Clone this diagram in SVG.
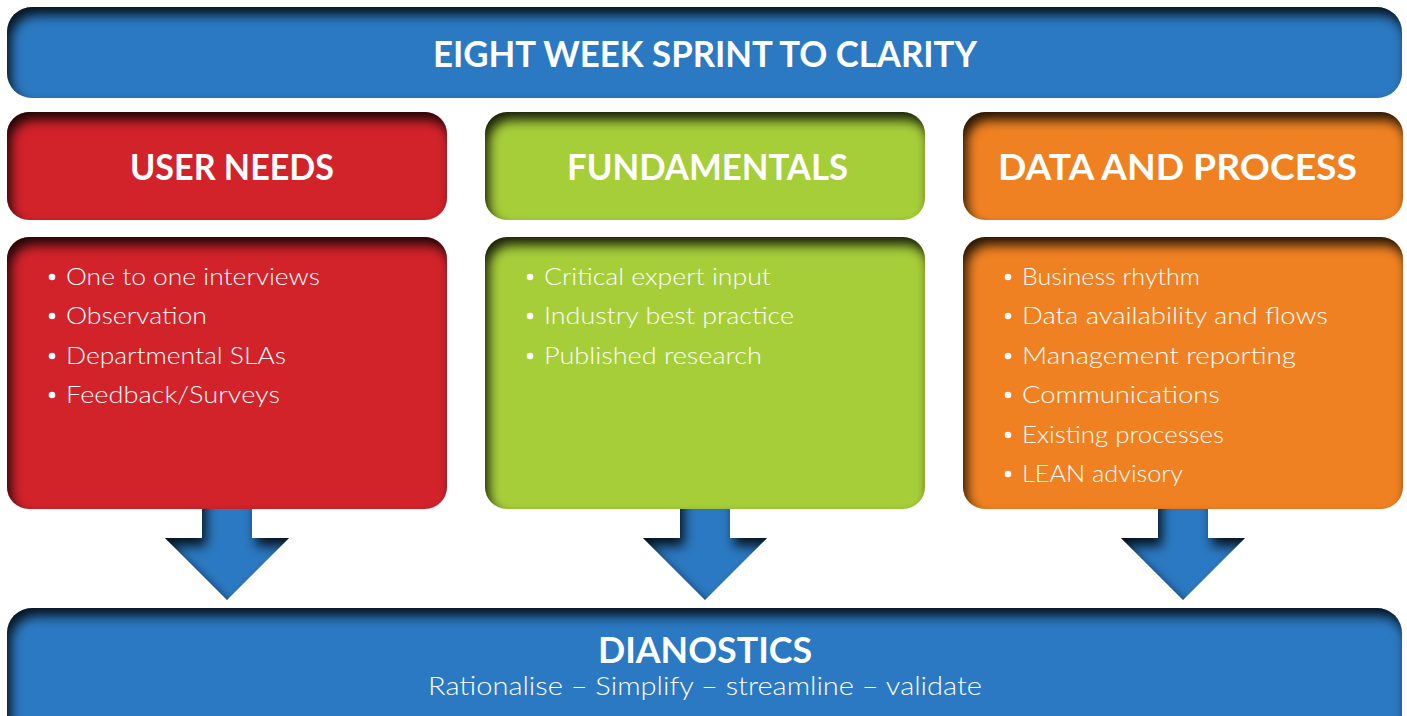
<svg xmlns="http://www.w3.org/2000/svg" width="1407" height="716" viewBox="0 0 1407 716">
  <style>
    .title { font-family: "Century Gothic", Lato, "DejaVu Sans", sans-serif; font-weight: 700; fill: #ffffff; text-anchor: middle; }
    .item { font-family: "Century Gothic", Lato, "DejaVu Sans", sans-serif; font-weight: 300; font-size: 24px; fill: #ffffff; }
    .sub { font-family: "Century Gothic", Lato, "DejaVu Sans", sans-serif; font-weight: 300; font-size: 25px; fill: #ffffff; }
    .blue { fill: #2b79c2; }
    .red { fill: #d2222a; }
    .green { fill: #a6ce39; }
    .orange { fill: #f08122; }
    .dot { fill: #ffffff; }
  </style>
  <defs>
    <!-- inner shadow falling from the top-left edge -->
    <filter id="inset" x="-10%" y="-40%" width="120%" height="180%" color-interpolation-filters="sRGB">
      <feComponentTransfer in="SourceAlpha" result="inv">
        <feFuncA type="table" tableValues="1 0"/>
      </feComponentTransfer>
      <feGaussianBlur in="inv" stdDeviation="6"/>
      <feOffset dx="4" dy="8" result="off"/>
      <feComposite in="off" in2="SourceAlpha" operator="in" result="sh"/>
      <feColorMatrix in="sh" type="matrix" values="0 0 0 0 0  0 0 0 0 0  0 0 0 0 0  0 0 0 0.85 0" result="shc"/>
      <feMerge>
        <feMergeNode in="SourceGraphic"/>
        <feMergeNode in="shc"/>
      </feMerge>
    </filter>
  </defs>

  <rect width="1407" height="716" fill="#ffffff"/>

  <!-- down arrows into the diagnostics bar -->
  <g id="connectors" filter="url(#inset)">
    <polygon class="blue" points="202,490 252,490 252,538 289,538 227,600 165,538 202,538"/>
    <polygon class="blue" points="680,490 730,490 730,538 767,538 705,600 643,538 680,538"/>
    <polygon class="blue" points="1158,490 1208,490 1208,538 1245,538 1183,600 1121,538 1158,538"/>
  </g>

  <g id="title">
    <rect class="blue" x="7" y="7" width="1395" height="91" rx="25" filter="url(#inset)"/>
    <text class="title" x="705" y="67" font-size="37" textLength="544" lengthAdjust="spacingAndGlyphs">EIGHT WEEK SPRINT TO CLARITY</text>
  </g>

  <g id="user-needs-head">
    <rect class="red" x="7" y="112" width="440" height="108" rx="22" filter="url(#inset)"/>
    <text class="title" x="232" y="180" font-size="37" textLength="204" lengthAdjust="spacingAndGlyphs">USER NEEDS</text>
  </g>
  <g id="fundamentals-head">
    <rect class="green" x="485" y="112" width="440" height="108" rx="22" filter="url(#inset)"/>
    <text class="title" x="707.5" y="180" font-size="37" textLength="281" lengthAdjust="spacingAndGlyphs">FUNDAMENTALS</text>
  </g>
  <g id="data-process-head">
    <rect class="orange" x="963" y="112" width="440" height="108" rx="22" filter="url(#inset)"/>
    <text class="title" x="1177.5" y="180" font-size="37" textLength="359" lengthAdjust="spacingAndGlyphs">DATA AND PROCESS</text>
  </g>

  <g id="user-needs-body">
    <rect class="red" x="7" y="237" width="440" height="272" rx="22" filter="url(#inset)"/>
    <circle class="dot" cx="52" cy="277" r="3.3"/>
    <text class="item" x="66" y="285" textLength="254" lengthAdjust="spacingAndGlyphs">One to one interviews</text>
    <circle class="dot" cx="52" cy="316" r="3.3"/>
    <text class="item" x="66" y="324" textLength="141" lengthAdjust="spacingAndGlyphs">Observation</text>
    <circle class="dot" cx="52" cy="356" r="3.3"/>
    <text class="item" x="66" y="364" textLength="220" lengthAdjust="spacingAndGlyphs">Departmental SLAs</text>
    <circle class="dot" cx="52" cy="395" r="3.3"/>
    <text class="item" x="66" y="403" textLength="214" lengthAdjust="spacingAndGlyphs">Feedback/Surveys</text>
  </g>

  <g id="fundamentals-body">
    <rect class="green" x="485" y="237" width="440" height="272" rx="22" filter="url(#inset)"/>
    <circle class="dot" cx="530" cy="277" r="3.3"/>
    <text class="item" x="544" y="285" textLength="227" lengthAdjust="spacingAndGlyphs">Critical expert input</text>
    <circle class="dot" cx="530" cy="316" r="3.3"/>
    <text class="item" x="544" y="324" textLength="250" lengthAdjust="spacingAndGlyphs">Industry best practice</text>
    <circle class="dot" cx="530" cy="356" r="3.3"/>
    <text class="item" x="544" y="364" textLength="218" lengthAdjust="spacingAndGlyphs">Published research</text>
  </g>

  <g id="data-process-body">
    <rect class="orange" x="963" y="237" width="440" height="272" rx="22" filter="url(#inset)"/>
    <circle class="dot" cx="1008" cy="277" r="3.3"/>
    <text class="item" x="1022" y="285" textLength="178" lengthAdjust="spacingAndGlyphs">Business rhythm</text>
    <circle class="dot" cx="1008" cy="316" r="3.3"/>
    <text class="item" x="1022" y="324" textLength="306" lengthAdjust="spacingAndGlyphs">Data availability and flows</text>
    <circle class="dot" cx="1008" cy="356" r="3.3"/>
    <text class="item" x="1022" y="364" textLength="274" lengthAdjust="spacingAndGlyphs">Management reporting</text>
    <circle class="dot" cx="1008" cy="395" r="3.3"/>
    <text class="item" x="1022" y="403" textLength="198" lengthAdjust="spacingAndGlyphs">Communications</text>
    <circle class="dot" cx="1008" cy="435" r="3.3"/>
    <text class="item" x="1022" y="443" textLength="202" lengthAdjust="spacingAndGlyphs">Existing processes</text>
    <circle class="dot" cx="1008" cy="474" r="3.3"/>
    <text class="item" x="1022" y="482" textLength="161" lengthAdjust="spacingAndGlyphs">LEAN advisory</text>
  </g>

  <g id="diagnostics">
    <rect class="blue" x="7" y="608" width="1395" height="140" rx="25" filter="url(#inset)"/>
    <text class="title" x="705" y="663" font-size="36" textLength="214" lengthAdjust="spacingAndGlyphs">DIANOSTICS</text>
    <text class="sub" x="705" y="695" text-anchor="middle" textLength="554" lengthAdjust="spacingAndGlyphs">Rationalise – Simplify – streamline – validate</text>
  </g>
</svg>
